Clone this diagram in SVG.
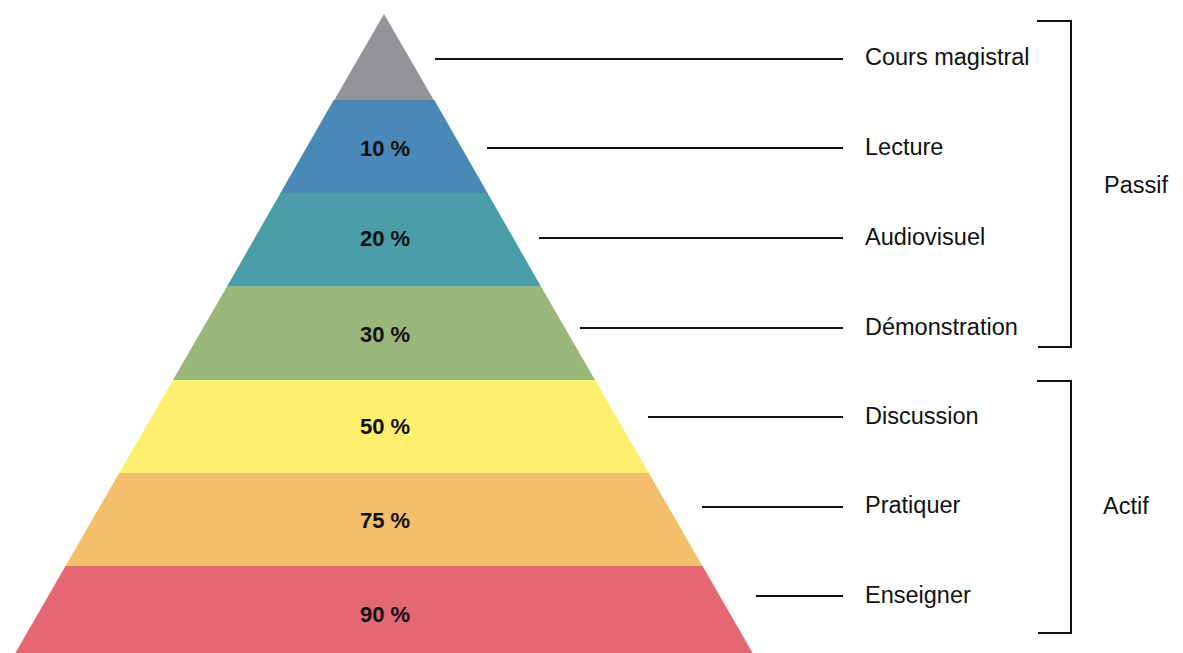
<svg xmlns="http://www.w3.org/2000/svg" width="1183" height="653" viewBox="0 0 1183 653">
  <style>
    .pct { font-family: "Liberation Sans", Arial, sans-serif; font-size: 22px; font-weight: bold; fill: #111; text-anchor: middle; }
    .lbl { font-family: "Liberation Sans", Arial, sans-serif; font-size: 23.5px; fill: #111; }
    .conn { stroke: #111; stroke-width: 2; fill: none; }
  </style>
  <rect width="1183" height="653" fill="#ffffff"/>

  <!-- Pyramid tiers: apex (384,14), sides slope 0.578 px per px -->
  <g id="tier-cours">
    <polygon points="384,14 434.3,101 333.7,101" fill="#939399"/>
  </g>
  <g id="tier-lecture">
    <polygon points="333.7,100 434.3,100 488.1,194 279.9,194" fill="#4a88b7"/>
    <text class="pct" x="385" y="156">10 %</text>
  </g>
  <g id="tier-audiovisuel">
    <polygon points="280.5,193 487.5,193 541.3,287 226.7,287" fill="#4a9ca6"/>
    <text class="pct" x="385" y="246">20 %</text>
  </g>
  <g id="tier-demonstration">
    <polygon points="227.3,286 540.7,286 595.0,380 173.0,380" fill="#99b778"/>
    <text class="pct" x="385" y="342">30 %</text>
  </g>
  <g id="tier-discussion">
    <polygon points="173.0,380 595.0,380 648.8,473 119.2,473" fill="#fdf06f"/>
    <text class="pct" x="385" y="434">50 %</text>
  </g>
  <g id="tier-pratiquer">
    <polygon points="119.2,473 648.8,473 702.5,566 65.5,566" fill="#f3bf6b"/>
    <text class="pct" x="385" y="528">75 %</text>
  </g>
  <g id="tier-enseigner">
    <polygon points="65.5,566 702.5,566 754.4,656 13.6,656" fill="#e56773"/>
    <text class="pct" x="385" y="622">90 %</text>
  </g>

  <!-- Leader lines from tiers to their labels, and group brackets -->
  <g id="connectors">
    <line class="conn" x1="435" y1="59" x2="843" y2="59"/>
    <line class="conn" x1="487" y1="148" x2="843" y2="148"/>
    <line class="conn" x1="539" y1="238" x2="843" y2="238"/>
    <line class="conn" x1="580" y1="328" x2="843" y2="328"/>
    <line class="conn" x1="648" y1="417" x2="843" y2="417"/>
    <line class="conn" x1="702" y1="507" x2="843" y2="507"/>
    <line class="conn" x1="756" y1="596" x2="843" y2="596"/>
    <polyline class="conn" points="1037,21 1071,21 1071,347 1038,347"/>
    <polyline class="conn" points="1037,381 1071,381 1071,633 1038,633"/>
  </g>

  <g id="label-cours"><text class="lbl" x="865" y="65">Cours magistral</text></g>
  <g id="label-lecture"><text class="lbl" x="865" y="155">Lecture</text></g>
  <g id="label-audiovisuel"><text class="lbl" x="865" y="245">Audiovisuel</text></g>
  <g id="label-demonstration"><text class="lbl" x="865" y="335">Démonstration</text></g>
  <g id="label-discussion"><text class="lbl" x="865" y="424">Discussion</text></g>
  <g id="label-pratiquer"><text class="lbl" x="865" y="513">Pratiquer</text></g>
  <g id="label-enseigner"><text class="lbl" x="865" y="603">Enseigner</text></g>

  <g id="group-passif"><text class="lbl" x="1104" y="193">Passif</text></g>
  <g id="group-actif"><text class="lbl" x="1103" y="514">Actif</text></g>
</svg>
